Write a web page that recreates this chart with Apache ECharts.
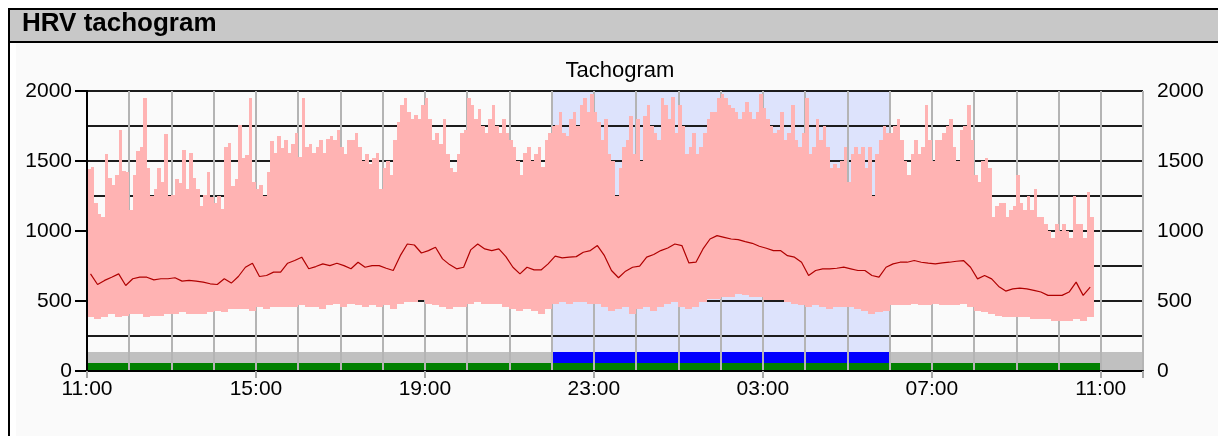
<!DOCTYPE html>
<html><head><meta charset="utf-8">
<script src="https://cdn.jsdelivr.net/npm/echarts@6/dist/echarts.min.js"></script>
<style>html,body{margin:0;padding:0;background:#fff}#c{width:1218px;height:436px}</style>
</head><body><div id="c"></div>
<script>
// RR interval envelope maxima, 5-minute bins starting 11:00 (ms)
const rrMax = [
1440,1460,1200,1120,1100,1550,1380,1330,1400,1720,
1430,1420,1150,1400,1570,1600,1950,1450,1250,1300,
1450,1350,1690,1250,1260,1370,1340,1580,1300,1560,
1380,1300,1180,1260,1420,1240,1200,1250,1160,1600,
1630,1320,1370,1760,1520,1540,1950,1350,1300,1330,
1250,1420,1640,1560,1680,1590,1650,1560,1620,1700,
1530,1950,1600,1620,1560,1600,1650,1560,1660,1680,
1650,1720,
1600,1550,1650,1650,1700,1600,1500,1550,1480,1520,
1560,1300,1450,1500,1400,1650,1780,1900,1950,1850,
1800,1830,1800,1900,1950,1800,1650,1700,1620,1800,
1550,1450,1420,1550,1700,1720,1950,1900,1800,1870,
1750,1700,1800,1900,1750,1700,1800,1700,1650,1600,
1500,1400,1560,1600,1500,1550,1600,1460,1650,1700,
1750,1760,1850,1700,1680,1800,1850,1750,1900,1950,
1850,
1980,1850,1780,1650,1800,1550,1500,1250,1450,1600,
1650,1820,1550,1800,1500,1820,1900,1750,1700,1650,
1950,1900,1800,1960,1700,1900,1750,1550,1600,1700,
1550,1600,1700,1800,1850,1850,1950,1980,1950,1900,
1880,1850,1800,1850,1920,1850,1800,1850,1980,1880,
1800,1750,1700,1720,1850,1650,1700,1900,1650,1600,
1700,1950,1550,1600,1800,1650,1750,1600,1450,1480,
1450,
1500,1600,1350,1550,1600,1550,1600,1450,1600,1250,
1550,1650,1750,1700,1700,1750,1800,1650,1500,1400,
1550,1650,1550,1600,1900,1650,1500,1650,1650,1700,
1750,1800,1600,1500,1720,1750,1900,1650,1400,1350,
1500,1520,1450,1100,1180,1200,1200,1100,1150,1180,
1400,1200,1150,1250,1150,1300,1100,1100,1050,1000,
950,1050,1000,1050,1000,950,1250,1050,1050,950,
1280,1100
];
// RR interval envelope minima, 10-minute bins (ms)
const rrMin = [
385,375,385,410,385,395,410,410,385,395,
395,410,410,420,410,410,410,420,430,420,
445,445,445,430,455,445,455,455,455,455,
470,455,455,445,470,480,455,480,470,455,
470,455,470,445,480,490,490,505,480,470,
455,445,455,455,480,490,480,480,480,455,
445,430,445,430,410,445,480,490,480,490,
490,480,480,455,430,445,455,410,445,455,
430,455,480,490,455,445,455,490,515,515,
530,530,550,540,530,530,505,505,505,490,
480,470,455,470,455,445,455,455,455,445,
430,410,420,430,470,470,470,480,470,470,
480,470,470,470,480,455,430,420,410,395,
385,385,385,385,375,375,375,360,360,360,
375,360,385
];
// Mean RR interval, 10-minute bins (ms)
const rrMean = [
694,618,647,670,694,611,659,670,670,651,
659,659,666,642,647,642,635,623,618,659,
628,675,741,770,675,682,706,706,770,789,
813,730,746,765,753,770,753,730,777,741,
753,753,734,718,824,907,900,843,860,884,
801,760,730,741,865,907,872,860,872,817,
741,694,741,722,722,765,820,808,813,817,
848,860,896,824,718,666,713,741,749,813,
832,860,879,907,896,772,777,872,943,967,
955,943,938,924,912,891,877,860,860,824,
813,777,682,718,730,730,734,742,730,718,
718,682,670,741,765,777,777,789,777,770,
765,772,777,784,789,741,658,682,658,604,
571,587,592,587,576,564,540,540,540,564,
635,540,599
];
const maxBinMinutes = 5;
const minBinMinutes = 10;
const meanBinMinutes = 10;
const sleepPeriod = [660, 1140];      // minutes after 11:00 -> 22:00 .. 06:00
const recordingPeriod = [0, 1440];    // 11:00 .. 11:00
const axisSpanMinutes = 1500;         // 11:00 .. 12:00 next day
const xTickLabels = ['11:00','15:00','19:00','23:00','03:00','07:00','11:00'];
const yTickValues = [0, 500, 1000, 1500, 2000];

const FONT = '"Liberation Sans", Arial, sans-serif';

const envData = rrMax.map((hi, i) => [i*maxBinMinutes, (i+1)*maxBinMinutes,
  rrMin[Math.floor(i*maxBinMinutes/minBinMinutes)], hi]);
const meanData = rrMean.map((v, i) => [i*meanBinMinutes + meanBinMinutes/2, v]);

// background bands: [start, end, low, high, color]
const bandData = [
  [0, axisSpanMinutes, 0, 138, '#c0c0c0'],
  [recordingPeriod[0], recordingPeriod[1], 0, 60, '#008000'],
  [sleepPeriod[0], sleepPeriod[1], 60, 138, '#0000ff'],
  [sleepPeriod[0], sleepPeriod[1], 138, 2000, '#dde3fc']
];

function snapRect(p0, p1) {
  const x0 = Math.round(p0[0]), x1 = Math.round(p1[0]);
  const y0 = Math.round(p0[1]), y1 = Math.round(p1[1]);
  return {x: x0, y: y0, width: x1 - x0, height: y1 - y0};
}

const chart = echarts.init(document.getElementById('c'), null, {renderer:'canvas'});
chart.setOption({
  backgroundColor: '#fafafa',
  animation: false,
  title: {
    text: 'Tachogram', left: 615, top: 55, textAlign: 'center',
    textStyle: {fontFamily: FONT, fontSize: 22, fontWeight: 'normal', color: '#000'}
  },
  graphic: [
    {type:'rect', shape:{x:0,y:0,width:1218,height:8}, style:{fill:'#fff'}, silent:true},
    {type:'rect', shape:{x:0,y:0,width:16,height:436}, style:{fill:'#fff'}, silent:true},
    {type:'rect', shape:{x:9,y:9,width:1212,height:33}, style:{fill:'#c8c8c8', stroke:'#000', lineWidth:2}, silent:true},
    {type:'line', shape:{x1:9,y1:8,x2:9,y2:436}, style:{stroke:'#000', lineWidth:2}, silent:true},
    {type:'text', left: 22, top: 11, style:{text:'HRV tachogram', font:'bold 26px ' + FONT, fill:'#000'}, silent:true}
  ],
  grid: {left: 87, right: 75, top: 91, bottom: 65, containLabel: false},
  xAxis: [
    {
      type: 'value', min: 0, max: axisSpanMinutes, interval: 60, position: 'bottom', z: 1,
      axisLine: {show: true, lineStyle: {color: '#000', width: 2}},
      axisTick: {show: false}, axisLabel: {show: false},
      splitLine: {show: true, lineStyle: {color: '#b4b4b4', width: 2}}
    },
    {
      type: 'value', min: 0, max: axisSpanMinutes, interval: 240, position: 'bottom', z: 6,
      axisLine: {show: false},
      axisTick: {show: true, length: 7, lineStyle: {color: '#a8a8a8', width: 2}},
      splitLine: {show: false},
      axisLabel: {
        show: true, margin: 8, color: '#000', fontFamily: FONT, fontSize: 21,
        formatter: v => (v % 240 === 0 && v/240 < xTickLabels.length) ? xTickLabels[v/240] : ''
      }
    }
  ],
  yAxis: [
    {
      type: 'value', min: 0, max: 2000, interval: 500, position: 'left', z: 6,
      axisLine: {show: true, lineStyle: {color: '#000', width: 2}},
      axisTick: {show: true, length: 12, lineStyle: {color: '#000', width: 2}},
      splitLine: {show: false},
      axisLabel: {margin: 15, color: '#000', fontFamily: FONT, fontSize: 21,
        formatter: v => yTickValues.includes(v) ? String(v) : ''}
    },
    {
      type: 'value', min: 0, max: 2000, interval: 250, position: 'right', z: 1,
      axisLine: {show: true, lineStyle: {color: '#000', width: 2}},
      axisTick: {show: false},
      splitLine: {show: true, lineStyle: {color: '#1c1c1c', width: 2}},
      axisLabel: {margin: 14, color: '#000', fontFamily: FONT, fontSize: 21,
        formatter: v => yTickValues.includes(v) ? String(v) : ''}
    }
  ],
  series: [
    {
      type: 'custom', name: 'bands', z: 0, silent: true, clip: true,
      data: bandData,
      encode: {x: [0, 1], y: [2, 3]},
      renderItem: (params, api) => {
        const d = bandData[params.dataIndex];
        return {type: 'rect', shape: snapRect(api.coord([d[0], d[3]]), api.coord([d[1], d[2]])),
          style: {fill: d[4]}};
      }
    },
    {
      type: 'custom', name: 'RR range', z: 3, silent: true, clip: true,
      data: envData,
      encode: {x: [0, 1], y: [2, 3]},
      renderItem: (params, api) => {
        const r = snapRect(api.coord([api.value(0), api.value(3)]), api.coord([api.value(1), api.value(2)]));
        return {type: 'rect', shape: r, style: {fill: '#ffb3b3', stroke: null}};
      }
    },
    {
      type: 'line', name: 'Mean RR', z: 4, data: meanData, symbol: 'none',
      lineStyle: {color: '#b00000', width: 1.2}
    }
  ]
});
</script></body></html>
